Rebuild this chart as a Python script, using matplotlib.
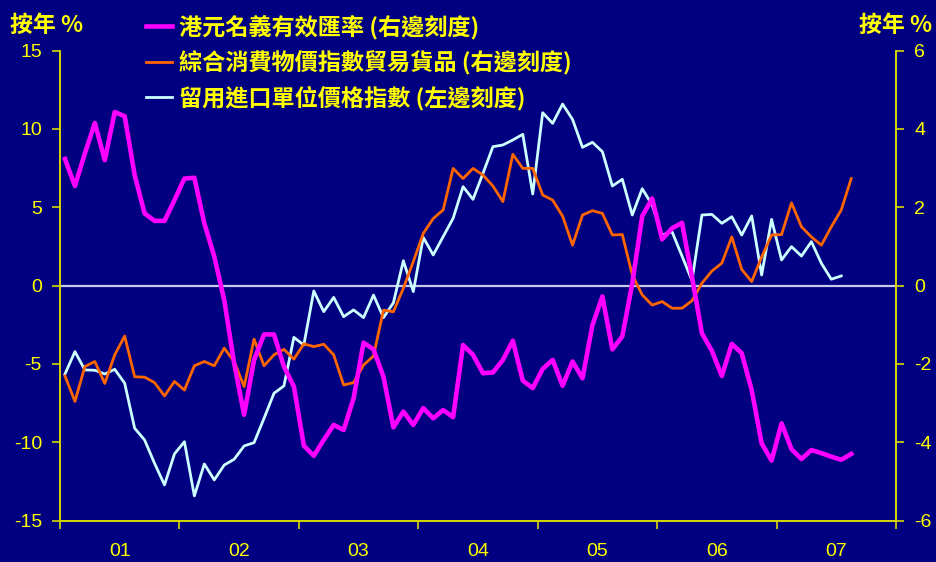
import numpy as np
import matplotlib
matplotlib.use("Agg")
import matplotlib.pyplot as plt
from matplotlib.lines import Line2D

plt.rcParams["axes.unicode_minus"] = False

# monthly data, Jan 2001 onwards
years = ["01", "02", "03", "04", "05", "06", "07"]

hkd_neer = [3.23, 2.54, 3.37, 4.15, 3.20, 4.43, 4.32, 2.82, 1.84, 1.65, 1.65, 2.18,
            2.73, 2.75, 1.59, 0.74, -0.37, -1.99, -3.30, -1.90, -1.25, -1.25, -2.07, -2.58,
            -4.09, -4.35, -3.94, -3.56, -3.69, -2.88, -1.46, -1.63, -2.33, -3.62, -3.22, -3.56,
            -3.13, -3.39, -3.18, -3.36, -1.52, -1.77, -2.24, -2.22, -1.90, -1.41, -2.43, -2.62,
            -2.13, -1.90, -2.56, -1.94, -2.37, -1.01, -0.28, -1.63, -1.30, 0.05, 1.77, 2.22,
            1.18, 1.46, 1.60, 0.22, -1.22, -1.67, -2.31, -1.49, -1.73, -2.67, -4.03, -4.47,
            -3.52, -4.18, -4.43, -4.20, -4.28, -4.37, -4.45, -4.30]

cpi_tradables = [-2.31, -2.96, -2.07, -1.94, -2.50, -1.77, -1.29, -2.33, -2.34, -2.48, -2.82, -2.45,
                 -2.67, -2.05, -1.94, -2.05, -1.60, -1.94, -2.58, -1.37, -2.05, -1.77, -1.63, -1.88,
                 -1.49, -1.56, -1.50, -1.77, -2.54, -2.48, -2.03, -1.80, -0.63, -0.67, -0.07, 0.61,
                 1.33, 1.71, 1.93, 2.99, 2.73, 2.99, 2.82, 2.54, 2.14, 3.35, 2.99, 2.99,
                 2.31, 2.18, 1.77, 1.03, 1.80, 1.91, 1.84, 1.29, 1.30, 0.27, -0.24, -0.50,
                 -0.41, -0.58, -0.58, -0.39, 0.06, 0.37, 0.57, 1.24, 0.41, 0.10, 0.73, 1.29,
                 1.30, 2.11, 1.50, 1.24, 1.03, 1.50, 1.93, 2.73]

import_prices = [-5.65, -4.22, -5.39, -5.41, -5.65, -5.35, -6.24, -9.11, -9.86, -11.35, -12.73, -10.75,
                 -9.97, -13.43, -11.39, -12.41, -11.46, -11.09, -10.24, -10.03, -8.48, -6.88, -6.41, -3.31,
                 -3.80, -0.35, -1.67, -0.76, -1.99, -1.56, -2.05, -0.61, -2.05, -1.10, 1.58, -0.39,
                 3.07, 1.95, 3.12, 4.29, 6.31, 5.50, 7.16, 8.86, 8.97, 9.29, 9.65, 5.84,
                 11.03, 10.35, 11.58, 10.60, 8.82, 9.14, 8.54, 6.35, 6.78, 4.50, 6.18, 5.14,
                 3.22, 3.43, 1.88, 0.31, 4.50, 4.54, 3.97, 4.39, 3.22, 4.44, 0.67, 4.22,
                 1.63, 2.48, 1.88, 2.80, 1.42, 0.40, 0.61]

labels = ["港元名義有效匯率 (右邊刻度)",
          "綜合消費物價指數貿易貨品 (右邊刻度)",
          "留用進口單位價格指數 (左邊刻度)"]

bg = "#000080"
yellow = "#FFFF00"
axis_col = "#D8D800"
c_mag = "#FF00FF"
c_org = "#FF6600"
c_wht = "#CCFFFF"

cjk = ["Noto Sans CJK TC", "DejaVu Sans"]
num_font = "Liberation Sans"

fig = plt.figure(figsize=(9.36, 5.62), dpi=100, facecolor=bg)
ax = fig.add_axes([60 / 936, 1 - 520.5 / 562, (896 - 60) / 936, (520.5 - 50.5) / 562])
ax.set_facecolor(bg)
ax2 = ax.twinx()

x_mag = np.arange(len(hkd_neer)) + 0.5
x_org = np.arange(len(cpi_tradables)) + 0.5
x_wht = np.arange(len(import_prices)) + 0.5

ax.axhline(0, color="#C8C8E8", lw=1.6, zorder=1)
ax.plot(x_wht, import_prices, color=c_wht, lw=2.0, zorder=3)
ax2.plot(x_org, cpi_tradables, color=c_org, lw=2.0, zorder=3)
ax2.plot(x_mag, hkd_neer, color=c_mag, lw=3.3, zorder=4)

ax.set_xlim(0, 84)
ax.set_ylim(-15, 15)
ax2.set_ylim(-6, 6)
ax.set_yticks(np.arange(-15, 16, 5))
ax2.set_yticks(np.arange(-6, 7, 2))

ax.set_xticks(np.arange(0, 85, 12))
ax.set_xticklabels([])
ax.set_xticks(np.arange(6, 84, 12), minor=True)
ax.set_xticklabels(years, minor=True)

for a in (ax, ax2):
    for s in a.spines.values():
        s.set_color(axis_col)
        s.set_linewidth(1.2)
    a.spines["top"].set_visible(False)

ax.tick_params(axis="x", which="major", direction="out", length=6, color=axis_col, width=1.2)
ax.tick_params(axis="x", which="minor", length=0, pad=16, labelcolor=yellow, labelsize=14)
ax.tick_params(axis="y", direction="out", length=6, color=axis_col, width=1.2,
               labelcolor=yellow, labelsize=14, pad=7)
ax2.tick_params(axis="y", direction="out", length=6, color=axis_col, width=1.2,
                labelcolor=yellow, labelsize=14, pad=7)
for lab in ax.get_xticklabels(minor=True) + ax.get_yticklabels() + ax2.get_yticklabels():
    lab.set_fontfamily(num_font)

handles = [Line2D([], [], color=c_mag, lw=3.3),
           Line2D([], [], color=c_org, lw=2.0),
           Line2D([], [], color=c_wht, lw=2.0)]
leg = fig.legend(handles, labels, loc="upper left", bbox_to_anchor=(134 / 936, 1 - 3 / 562),
                 frameon=False, borderpad=0, handlelength=1.15, handletextpad=0.27,
                 labelspacing=0.47,
                 prop={"family": cjk, "size": 16.7, "weight": "bold"})
for t in leg.get_texts():
    t.set_color(yellow)

fig.text(10 / 936, 1 - 25 / 562, "按年 %", color=yellow, fontsize=16.5, fontweight="bold",
         family=cjk, va="center", ha="left")
fig.text(932 / 936, 1 - 25 / 562, "按年 %", color=yellow, fontsize=16.5, fontweight="bold",
         family=cjk, va="center", ha="right")

fig.savefig("out.png", dpi=100, facecolor=bg)
